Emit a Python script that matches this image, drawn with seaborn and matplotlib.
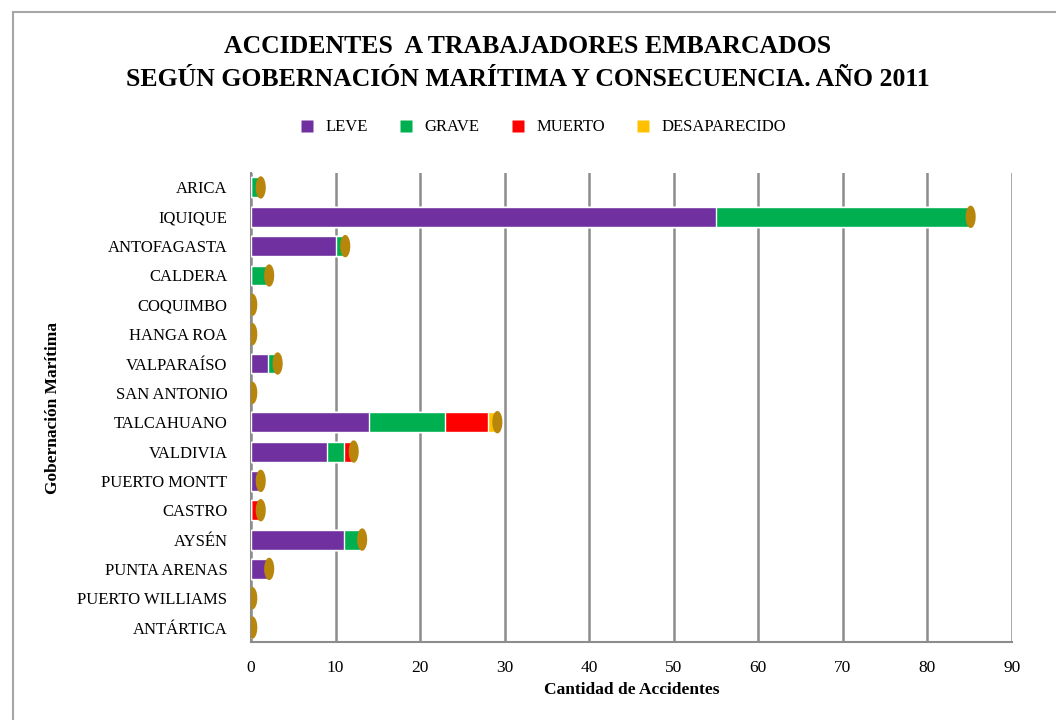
import numpy as np
import pandas as pd
import seaborn as sns
import matplotlib.pyplot as plt
from matplotlib.patches import Rectangle
from matplotlib.lines import Line2D

gobernaciones = ['ARICA', 'IQUIQUE', 'ANTOFAGASTA', 'CALDERA', 'COQUIMBO', 'HANGA ROA',
                 'VALPARAÍSO', 'SAN ANTONIO', 'TALCAHUANO', 'VALDIVIA', 'PUERTO MONTT',
                 'CASTRO', 'AYSÉN', 'PUNTA ARENAS', 'PUERTO WILLIAMS', 'ANTÁRTICA']
leve = [0, 55, 10, 0, 0, 0, 2, 0, 14, 9, 1, 0, 11, 2, 0, 0]
grave = [1, 30, 1, 2, 0, 0, 1, 0, 9, 2, 0, 0, 2, 0, 0, 0]
muerto = [0, 0, 0, 0, 0, 0, 0, 0, 5, 1, 0, 1, 0, 0, 0, 0]
desaparecido = [0, 0, 0, 0, 0, 0, 0, 0, 1, 0, 0, 0, 0, 0, 0, 0]

series = ['LEVE', 'GRAVE', 'MUERTO', 'DESAPARECIDO']
colores = ['#7030A0', '#00B050', '#FF0000', '#FFC000']

df = pd.DataFrame({'gob': gobernaciones, 'LEVE': leve, 'GRAVE': grave,
                   'MUERTO': muerto, 'DESAPARECIDO': desaparecido})
# cumulative sums for stacking
cum = df[series].cumsum(axis=1)
cum['gob'] = df['gob']

sns.set_style('white')
plt.rcParams['font.family'] = ['Liberation Serif', 'DejaVu Serif']
plt.rcParams['text.color'] = 'black'
plt.rcParams['axes.labelcolor'] = 'black'
plt.rcParams['xtick.labelcolor'] = 'black'
plt.rcParams['ytick.labelcolor'] = 'black'

fig = plt.figure(figsize=(10.56, 7.2), dpi=100)
ax = fig.add_axes([0.2377, 0.108, 0.7203, 0.652])

# draw largest cumulative first so the smaller layers sit on top
for s, c in reversed(list(zip(series, colores))):
    sns.barplot(data=cum, x=s, y='gob', color=c, orient='h', width=0.68,
                saturation=1, ax=ax, zorder=3)

# end caps of the cylinders
t = np.linspace(0, 2 * np.pi, 40)
cap = np.column_stack([0.45 * np.cos(t), np.sin(t)])
sns.scatterplot(x=cum['DESAPARECIDO'] + 0.15, y=np.arange(len(gobernaciones)),
                marker=cap, s=260, color='#B8860B', edgecolor='none', ax=ax, zorder=4,
                legend=False)

ax.set_xlim(0, 90)
ax.set_ylim(len(gobernaciones) - 0.5, -0.5)
ax.set_xticks(np.arange(0, 91, 10))
ax.grid(axis='x', color='#8c8c8c', lw=1.8, zorder=0)
ax.grid(axis='y', visible=False)
ax.set_yticks(np.arange(len(gobernaciones) + 1) - 0.5, minor=True)
ax.tick_params(axis='y', which='minor', length=5, color='#8c8c8c', width=1.2)
ax.tick_params(axis='y', which='major', length=0, labelsize=12, pad=17)
ax.tick_params(axis='x', length=5, color='#8c8c8c', width=1.2, labelsize=12.5, pad=8)
for side in ['top', 'right']:
    ax.spines[side].set_visible(False)
for side in ['left', 'bottom']:
    ax.spines[side].set_color('#8c8c8c')
    ax.spines[side].set_linewidth(1.5)

ax.set_xlabel('Cantidad de Accidentes', fontsize=12.5, fontweight='bold', labelpad=4)
ax.set_ylabel('Gobernación Marítima', fontsize=12.5, fontweight='bold', labelpad=12)

fig.text(0.5, 0.912, 'ACCIDENTES  A TRABAJADORES EMBARCADOS\nSEGÚN GOBERNACIÓN MARÍTIMA Y CONSECUENCIA. AÑO 2011',
         ha='center', va='center', fontsize=18.5, fontweight='bold', linespacing=1.55)

handles = [Line2D([0], [0], marker='s', linestyle='none', markersize=9,
                  markerfacecolor=c, markeredgecolor='none') for c in colores]
fig.legend(handles, series, loc='center', bbox_to_anchor=(0.51, 0.823), ncol=4,
           frameon=False, fontsize=12, handletextpad=0.1, columnspacing=1.3)

fig.patches.append(Rectangle((0.012, -0.01), 1.0, 0.994, transform=fig.transFigure,
                             fill=False, edgecolor='#a6a6a6', lw=1.5))

fig.savefig('out.png', dpi=100)
